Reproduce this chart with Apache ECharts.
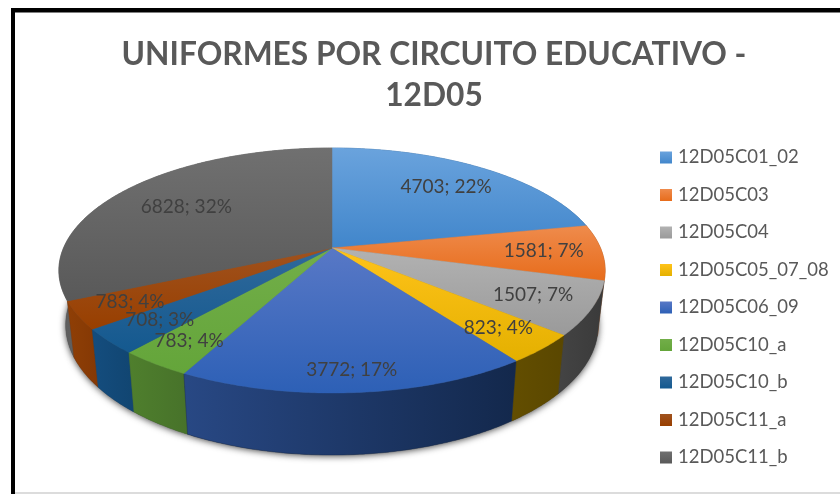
<!DOCTYPE html>
<html>
<head>
<meta charset="utf-8">
<style>html,body{margin:0;padding:0;background:#fff}#main{width:840px;height:494px}</style>
<script src="https://cdn.jsdelivr.net/npm/echarts@6/dist/echarts.min.js"></script>
</head>
<body>
<div id="main"></div>
<script>
// datos
var categories = ['12D05C01_02', '12D05C03', '12D05C04', '12D05C05_07_08', '12D05C06_09', '12D05C10_a', '12D05C10_b', '12D05C11_a', '12D05C11_b'];
var values = [4703, 1581, 1507, 823, 3772, 783, 708, 783, 6828];
var percents = [22, 7, 7, 4, 17, 4, 3, 4, 32];

// estilos: cara superior (arriba, abajo) y lateral (izq, der)
var topColors = [['#6aa3dd', '#4186cb'], ['#ef8b4c', '#e76c1b'], ['#b2b2b2', '#9a9a9a'], ['#ffc31a', '#e4b000'], ['#5878c6', '#2d60b6'], ['#72ae49', '#64a53a'], ['#30699b', '#14598f'], ['#a0521e', '#983f00'], ['#707070', '#595959']];
var sideColors = [['#2a5c8c', '#2a5c8c'], ['#8f4a1a', '#8f4a1a'], ['#444444', '#3a3a3a'], ['#634e00', '#5a4700'], ['#284884', '#13284c'], ['#4f7f2d', '#47722a'], ['#144d7e', '#114571'], ['#8f3f06', '#843804'], ['#5f5f5f', '#595959']];
// distancia radial de cada etiqueta (0-1)
var labelRadius = [0.74, 0.785, 0.79, 0.815, 0.868, 0.83, 0.795, 0.81, 0.69];

// perspectiva del disco
var hubX = 332, hubY = 248, radX = 268.5, radY = 118.4, persp = 0.1837;
var wallH = 62, wallShrink = 0.975;

var total = values.reduce(function (a, b) { return a + b; }, 0);

function toAngle(v) { return v / total * Math.PI * 2; }

// r en 0-1, level 0 = cara superior, 1 = base
function project(theta, r, level) {
    var X = Math.sin(theta) * r, Y = Math.cos(theta) * r;
    var d = 1 + persp * Y;
    var x = radX * X / d, y = hubY - radY * Y / d;
    if (level) {
        x = x * wallShrink;
        y = y + wallH + (y - 393) * 0.06;
    }
    return [hubX + x, y];
}

function arc(a0, a1, level) {
    var pts = [], n = Math.max(2, Math.ceil((a1 - a0) / 0.01));
    for (var i = 0; i <= n; i++) {
        pts.push(project(a0 + (a1 - a0) * i / n, 1, level));
    }
    return pts;
}

function vGrad(c) {
    return new echarts.graphic.LinearGradient(0, 0, 0, 1, [{ offset: 0, color: c[0] }, { offset: 1, color: c[1] }]);
}
function hGrad(c) {
    return new echarts.graphic.LinearGradient(0, 0, 1, 0, [{ offset: 0, color: c[0] }, { offset: 1, color: c[1] }]);
}

function renderSlice(params, api) {
    var idx = params.seriesIndex;
    var a0 = 0;
    for (var i = 0; i < idx; i++) a0 += toAngle(values[i]);
    var a1 = a0 + toAngle(api.value(0));
    var mid = (a0 + a1) / 2;
    var front = 1000 - Math.round(Math.abs(mid - Math.PI) * 100);

    var children = [];
    // sombra de la base
    children.push({
        type: 'polygon',
        z2: 1,
        shape: { points: arc(a0, a1, 1).concat([[hubX, hubY + wallH]]) },
        style: { fill: '#555', shadowBlur: 7, shadowColor: 'rgba(0,0,0,0.75)', shadowOffsetY: 1 },
        silent: true
    });
    // pared
    children.push({
        type: 'polygon',
        z2: 1000 + front,
        shape: { points: arc(a0, a1, 0).concat(arc(a0, a1, 1).reverse()) },
        style: { fill: hGrad(sideColors[idx]), stroke: sideColors[idx][1], lineWidth: 0.4 }
    });
    // cara superior
    children.push({
        type: 'polygon',
        z2: 3000,
        shape: { points: [[hubX, hubY]].concat(arc(a0, a1, 0)) },
        style: { fill: vGrad(topColors[idx]), stroke: vGrad(topColors[idx]), lineWidth: 0.5 }
    });
    var lp = project(mid, labelRadius[idx], 0);
    children.push({
        type: 'text',
        z2: 4000,
        style: {
            x: lp[0], y: lp[1],
            text: api.value(0) + '; ' + percents[idx] + '%',
            align: 'center', verticalAlign: 'middle',
            font: '19px Lato, sans-serif',
            fill: '#404040'
        }
    });
    return { type: 'group', children: children };
}

var series = categories.map(function (name, i) {
    return {
        name: name,
        type: 'custom',
        coordinateSystem: 'none',
        renderItem: renderSlice,
        itemStyle: { color: vGrad(topColors[i]) },
        data: [[values[i]]],
        animation: false
    };
});

var myChart = echarts.init(document.getElementById('main'));
var option = {
    animation: false,
    backgroundColor: '#fff',
    title: {
        text: 'UNIFORMES POR CIRCUITO EDUCATIVO -\n12D05',
        left: 429,
        top: 29,
        textAlign: 'center',
        textStyle: {
            fontFamily: 'Lato',
            fontSize: 31.7,
            fontWeight: 'bold',
            color: '#595959',
            lineHeight: 41.5
        }
    },
    legend: {
        orient: 'vertical',
        left: 660,
        top: 148,
        padding: 0,
        icon: 'rect',
        itemWidth: 12,
        itemHeight: 12,
        itemGap: 18.5,
        selectedMode: false,
        data: categories,
        textStyle: { fontFamily: 'Lato', fontSize: 18.5, color: '#595959', padding: [0, 0, 0, 1], lineHeight: 19 }
    },
    graphic: [
        // marco negro de la captura
        { type: 'rect', shape: { x: 11, y: 8, width: 829, height: 4.5 }, style: { fill: '#000' } },
        { type: 'rect', shape: { x: 11, y: 8, width: 4, height: 486 }, style: { fill: '#000' } },
        { type: 'rect', shape: { x: 15, y: 492, width: 825, height: 2 }, style: { fill: '#dcdcdc' } }
    ],
    series: series
};
myChart.setOption(option);
</script>
</body>
</html>
